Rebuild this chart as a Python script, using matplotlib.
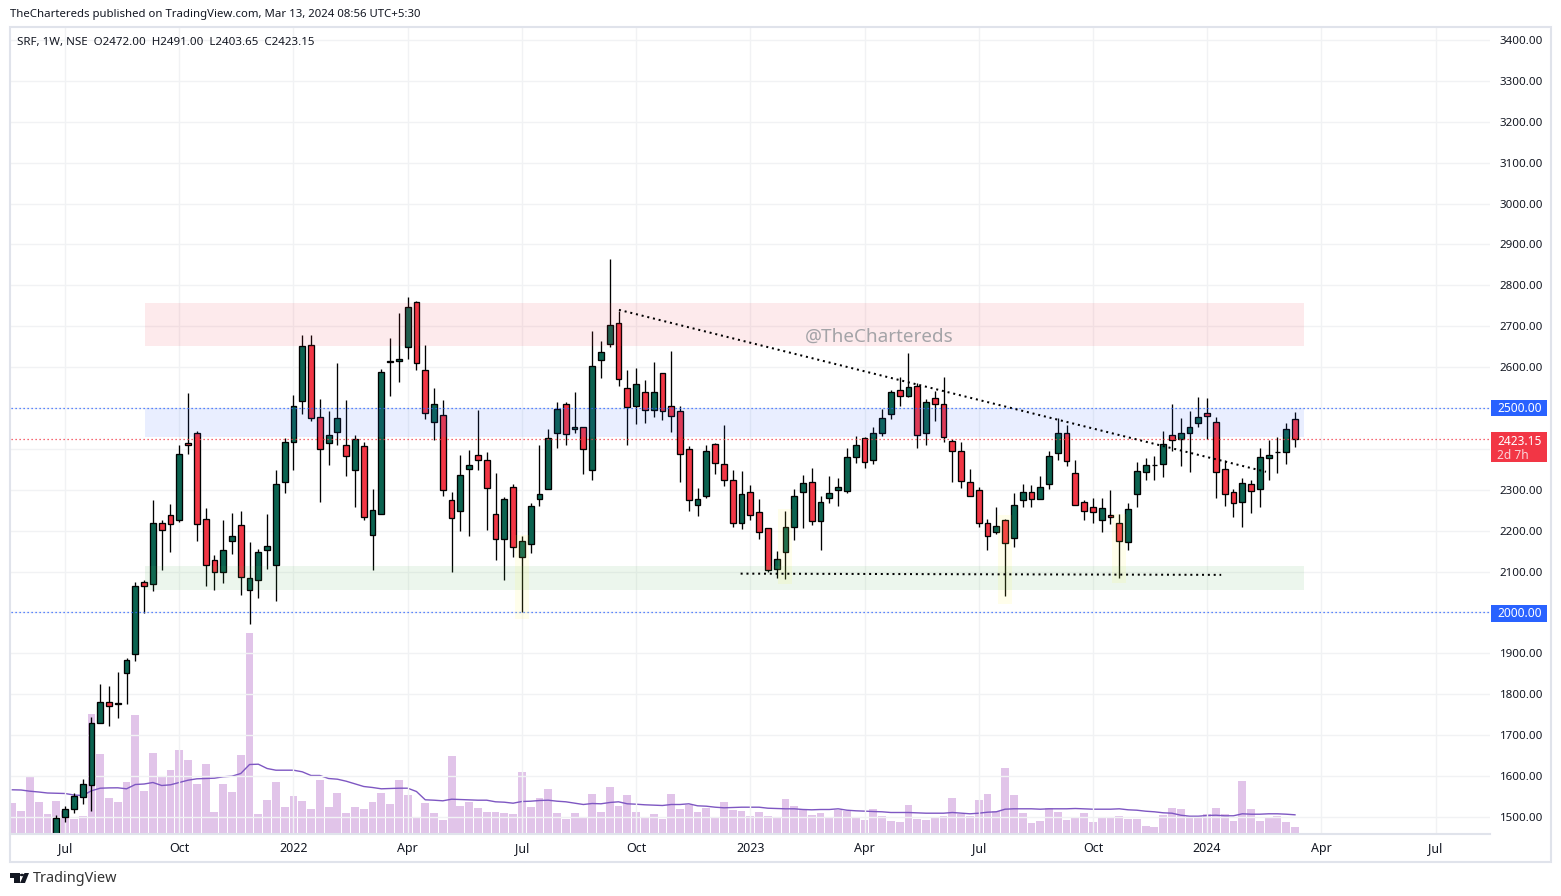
"""SRF weekly candles with support/resistance zones and volume, TradingView look."""
import matplotlib

matplotlib.use("Agg")
import matplotlib.pyplot as plt
from matplotlib.patches import Rectangle, Polygon, Circle
import numpy as np

plt.rcParams["font.family"] = "Noto Sans"

# weekly bars, index 0 is the first candle that shows above the pane bottom
opens = [1455, 1501, 1519, 1548, 1579, 1731, 1780, 1777, 1853, 1898,
         2074, 2069, 2218, 2238, 2225, 2414, 2438, 2228, 2128, 2098,
         2174, 2213, 2054, 2079, 2154, 2115, 2318, 2418, 2518, 2653,
         2477, 2414, 2442, 2409, 2348, 2406, 2189, 2240, 2613, 2614,
         2648, 2758, 2592, 2465, 2482, 2274, 2247, 2352, 2384, 2372,
         2240, 2179, 2308, 2135, 2167, 2277, 2301, 2438, 2509, 2448,
         2453, 2348, 2617, 2656, 2707, 2548, 2504, 2538, 2494, 2585,
         2504, 2492, 2399, 2264, 2286, 2411, 2362, 2323, 2218, 2294,
         2245, 2206, 2106, 2147, 2208, 2294, 2318, 2223, 2279, 2299,
         2296, 2379, 2426, 2372, 2438, 2485, 2543, 2529, 2553, 2438,
         2524, 2511, 2419, 2394, 2318, 2299, 2220, 2198, 2225, 2181,
         2274, 2294, 2277, 2313, 2389, 2438, 2340, 2269, 2257, 2225,
         2238, 2218, 2172, 2289, 2343, 2360, 2362, 2433, 2423, 2438,
         2463, 2487, 2465, 2350, 2294, 2269, 2313, 2301, 2377, 2392,
         2392, 2472]
highs = [1505, 1527, 1558, 1592, 1744, 1825, 1820, 1855, 1888, 2075,
         2079, 2275, 2226, 2265, 2410, 2536, 2443, 2255, 2141, 2226,
         2243, 2248, 2172, 2155, 2241, 2348, 2426, 2532, 2678, 2678,
         2522, 2493, 2610, 2520, 2433, 2417, 2302, 2595, 2671, 2732,
         2771, 2761, 2654, 2549, 2520, 2294, 2385, 2397, 2495, 2392,
         2341, 2282, 2313, 2187, 2268, 2410, 2449, 2515, 2515, 2539,
         2453, 2688, 2664, 2864, 2737, 2592, 2597, 2568, 2612, 2585,
         2639, 2505, 2406, 2304, 2409, 2414, 2458, 2348, 2346, 2312,
         2278, 2206, 2150, 2248, 2302, 2336, 2353, 2285, 2334, 2328,
         2401, 2431, 2428, 2453, 2497, 2543, 2575, 2634, 2562, 2521,
         2542, 2575, 2423, 2416, 2352, 2307, 2228, 2257, 2228, 2291,
         2313, 2312, 2334, 2394, 2475, 2458, 2372, 2274, 2279, 2279,
         2299, 2240, 2267, 2367, 2378, 2383, 2444, 2510, 2476, 2493,
         2526, 2524, 2477, 2372, 2301, 2330, 2323, 2401, 2421, 2428,
         2463, 2491]
lows = [1440, 1488, 1511, 1532, 1515, 1731, 1723, 1743, 1777, 1882,
        1999, 2053, 2104, 2148, 2221, 2388, 2175, 2065, 2055, 2072,
        2143, 2043, 1972, 2035, 2107, 2028, 2293, 2348, 2486, 2467,
        2269, 2361, 2410, 2334, 2258, 2225, 2104, 2240, 2530, 2564,
        2621, 2593, 2473, 2422, 2285, 2099, 2199, 2187, 2348, 2202,
        2128, 2079, 2135, 2001, 2145, 2260, 2301, 2402, 2410, 2439,
        2339, 2324, 2573, 2648, 2554, 2410, 2461, 2463, 2478, 2471,
        2441, 2319, 2248, 2236, 2280, 2339, 2309, 2209, 2204, 2226,
        2180, 2100, 2084, 2082, 2177, 2207, 2214, 2153, 2268, 2260,
        2291, 2366, 2353, 2364, 2432, 2472, 2505, 2526, 2401, 2410,
        2469, 2418, 2319, 2305, 2286, 2210, 2153, 2193, 2040, 2161,
        2257, 2259, 2277, 2301, 2374, 2359, 2262, 2225, 2220, 2198,
        2217, 2084, 2153, 2259, 2324, 2325, 2332, 2396, 2359, 2344,
        2454, 2424, 2281, 2261, 2234, 2210, 2244, 2259, 2324, 2342,
        2364, 2403.65]
closes = [1497, 1519, 1551, 1580, 1731, 1780, 1771, 1778, 1883, 2066,
          2064, 2218, 2201, 2216, 2387, 2409, 2216, 2115, 2098, 2152,
          2186, 2088, 2084, 2147, 2162, 2313, 2418, 2504, 2651, 2475,
          2399, 2433, 2475, 2382, 2423, 2233, 2250, 2587, 2614, 2619,
          2746, 2609, 2487, 2511, 2299, 2230, 2335, 2360, 2372, 2304,
          2179, 2277, 2159, 2174, 2260, 2289, 2426, 2497, 2436, 2453,
          2399, 2602, 2636, 2702, 2570, 2502, 2558, 2494, 2538, 2492,
          2480, 2387, 2274, 2277, 2396, 2365, 2323, 2218, 2289, 2238,
          2196, 2103, 2130, 2208, 2286, 2316, 2223, 2269, 2291, 2306,
          2379, 2409, 2367, 2438, 2475, 2538, 2529, 2551, 2433, 2514,
          2511, 2428, 2396, 2321, 2286, 2220, 2186, 2211, 2169, 2264,
          2294, 2277, 2308, 2382, 2438, 2370, 2262, 2247, 2245, 2255,
          2233, 2174, 2252, 2345, 2360, 2361, 2411, 2421, 2438, 2453,
          2477, 2480, 2343, 2289, 2267, 2316, 2296, 2379, 2384, 2392,
          2448, 2423.15]

# volume starts five weeks before the first visible candle
volume = [31, 23, 58, 32, 20,
          33, 23, 15, 18, 120, 80, 36, 32, 52, 119,
          43, 81, 57, 64, 84, 74, 50, 70, 22, 50,
          42, 79, 201, 20, 34, 52, 27, 38, 33, 25,
          54, 27, 41, 21, 27, 25, 32, 41, 30, 54,
          39, 17, 31, 21, 14, 78, 28, 32, 26, 22,
          22, 21, 20, 62, 27, 36, 45, 21, 15, 21,
          17, 40, 22, 47, 28, 39, 22, 17, 20, 15,
          40, 25, 29, 22, 26, 17, 32, 24, 23, 18,
          22, 18, 17, 35, 28, 25, 19, 21, 16, 24,
          23, 17, 14, 25, 18, 13, 12, 29, 15, 14,
          16, 18, 36, 20, 18, 34, 40, 23, 66, 39,
          21, 11, 13, 26, 22, 14, 16, 21, 12, 17,
          17, 18, 15, 15, 8, 7, 19, 26, 25, 18,
          18, 20, 26, 20, 13, 53, 25, 13, 16, 18,
          12, 7]
volume_ma = [43.7, 43.5, 42.3, 41.5, 40.5,
             40.3, 40, 38.5, 38, 42.7, 45.3, 45.6, 45.7, 44.7, 49,
             49.5, 51, 48, 48.7, 51, 53.3, 54.7, 55, 55.3, 56.7,
             57.3, 60, 69, 69.3, 65, 63.3, 63.3, 63.3, 61.7, 58,
             58, 55, 54.3, 52.3, 49.7, 47, 46, 44.7, 45, 45.3,
             45.3, 42, 33.7, 33.3, 32.7, 34.3, 34, 33.7, 33.3, 33.3,
             31.7, 31.3, 30.3, 32, 32.3, 33, 33.3, 32.3, 31.7, 30.3,
             29, 30, 29.7, 31, 31.7, 29.7, 29.3, 28.7, 28.3, 28,
             29, 29, 29.7, 27.7, 27.3, 26.3, 25.7, 26, 26.3, 26.3,
             26.3, 25.3, 25, 24.7, 24.7, 24, 23.7, 24, 24, 24.7,
             23.3, 22.7, 22.3, 22, 21.7, 21, 21, 21, 20.7, 20.3,
             20.3, 20.3, 21, 20.3, 19.7, 20.3, 21.3, 21.7, 24.3, 24.7,
             24.7, 24.7, 24.3, 24.7, 24.7, 24.7, 25, 24.7, 24.3, 24.3,
             24.3, 24.7, 23.7, 23.3, 22.3, 21.7, 20.7, 20.3, 18.3, 17.3,
             17.3, 18, 18.3, 17.7, 17.7, 19.7, 19.3, 19.3, 19.7, 19.7,
             19.3, 18.7]

tick_pos = [1, 14, 27, 40, 53, 66, 79, 92, 105, 118, 131, 144, 157]
tick_labels = ["Jul", "Oct", "2022", "Apr", "Jul", "Oct", "2023", "Apr", "Jul", "Oct", "2024", "Apr", "Jul"]
price_ticks = list(range(1500, 3500, 100))

# (start week, end week, top price, bottom price, colour)
zones = [(10.1, 142, 2757, 2652, "#f23645"),
         (10.1, 142, 2500, 2428, "#2962ff"),
         (10.1, 142, 2114, 2055, "#4caf50")]
# (week, top price, bottom price)
wick_marks = [(53, 2190, 1984), (83, 2253, 2070), (108, 2238, 2021), (121, 2241, 2072)]
trend_x = [64.05, 137.7]
trend_y = [2740, 2344]
support_x = [77.9, 132.6]
support_y = [2095, 2092]

W, H = 1561, 896
GREEN, RED, BLUE = "#0b6350", "#f23645", "#2962ff"
TEXT = "#131722"
BORDER = "#e0e3eb"
GRID = "#f1f2f4"


def fx(px):
    return px / W


def fy(py):
    return 1 - py / H


fig = plt.figure(figsize=(W / 100, H / 100), dpi=100, facecolor="white")
left, right, top, bottom = 10.5, 1490, 27, 833.5
ax_vol = fig.add_axes([fx(left), fy(bottom), fx(right - left), (bottom - top) / H])
ax = fig.add_axes([fx(left), fy(bottom), fx(right - left), (bottom - top) / H], sharex=ax_vol)
ax.patch.set_visible(False)
ax_vol.set_ylim(0, bottom - top)
ax_vol.axis("off")

weeks = np.arange(len(opens))
vol_weeks = np.arange(-5, len(opens))
ax_vol.bar(vol_weeks, volume, width=0.89, color="#e1c4e9", linewidth=0)
ax_vol.plot(vol_weeks, volume_ma, color="#7e57c2", linewidth=1.0)

ax.set_xlim(-5.21, 163.2)
ax.set_ylim(2500 - (bottom - 408) / 0.409, 2500 - (top - 408) / 0.409)
for side in ax.spines.values():
    side.set_visible(False)
ax.set_xticks(tick_pos)
ax.set_xticklabels(tick_labels, fontsize=9, color=TEXT)
for lab, txt in zip(ax.get_xticklabels(), tick_labels):
    if txt.isdigit():
        lab.set_fontweight("bold")
ax.tick_params(axis="x", length=0, pad=6)
ax.yaxis.tick_right()
ax.set_yticks(price_ticks)
ax.set_yticklabels(["" if p in (2000, 2400, 2500) else f"{p}.00" for p in price_ticks], fontsize=8.3, color=TEXT)
ax.tick_params(axis="y", length=0, pad=7)
ax.grid(True, color=GRID, linewidth=1.0, zorder=0)
ax.set_axisbelow(True)

# candles
colors = [GREEN if c >= o else RED for o, c in zip(opens, closes)]
ax.vlines(weeks, lows, highs, color="black", linewidth=0.95, zorder=2)
ax.bar(weeks, np.array(closes) - np.array(opens), bottom=opens, width=0.66, color=colors,
       edgecolor="black", linewidth=0.95, zorder=3)

for x0, x1, p_top, p_bot, c in zones:
    ax.add_patch(Rectangle((x0, p_bot), x1 - x0, p_top - p_bot, facecolor=c, alpha=0.1,
                           linewidth=0, zorder=4))
for wk, p_top, p_bot in wick_marks:
    ax.add_patch(Rectangle((wk - 0.8, p_bot), 1.6, p_top - p_bot, facecolor="#fff93b", alpha=0.1,
                           linewidth=0, zorder=5))

ax.axhline(2500, color=BLUE, linewidth=0.9, linestyle=(0, (1, 2.2)), zorder=4)
ax.axhline(2000, color=BLUE, linewidth=0.9, linestyle=(0, (1, 2.2)), zorder=4)
ax.axhline(closes[-1], color=RED, linewidth=0.9, linestyle=(0, (1, 2.2)), zorder=4)
ax.plot(trend_x, trend_y, color="black", linewidth=1.45, linestyle=(0, (1, 1.9)), zorder=6)
ax.plot(support_x, support_y, color="black", linewidth=1.45, linestyle=(0, (1, 1.9)), zorder=6)

fig.text(fx(879), fy(336.5), "@TheChartereds", fontsize=13.6, color="#a4a4a8", ha="center", va="center")

# header, legend and footer
fig.text(fx(10), fy(14), "TheChartereds published on TradingView.com, Mar 13, 2024 08:56 UTC+5:30",
         fontsize=8.2, color=TEXT, va="center")
fig.text(fx(17), fy(42), "SRF, 1W, NSE  O2472.00  H2491.00  L2403.65  C2423.15",
         fontsize=8.3, color=TEXT, va="center")
fig.text(fx(33), fy(878), "TradingView", fontsize=10.4, color="#333333", va="center")

# outer frame and line under the pane
fig.add_artist(Rectangle((fx(10), fy(861.5)), fx(1540.5), (861.5 - 27) / H, transform=fig.transFigure,
                         fill=False, edgecolor=BORDER, linewidth=1.5))
fig.add_artist(plt.Line2D([fx(10), fx(1490)], [fy(833.5), fy(833.5)], color=BORDER, linewidth=1.5))

# price badges on the scale
for y0, y1, c in [(400, 416.5, BLUE), (605, 621.5, BLUE), (432, 462.5, RED)]:
    fig.add_artist(Rectangle((fx(1491), fy(y1)), fx(56), (y1 - y0) / H, transform=fig.transFigure,
                             facecolor=c, linewidth=0))
fig.text(fx(1520), fy(408.5), "2500.00", fontsize=8.6, color="white", ha="center", va="center", fontweight="medium")
fig.text(fx(1520), fy(613.5), "2000.00", fontsize=8.6, color="white", ha="center", va="center", fontweight="medium")
fig.text(fx(1520), fy(441), "2423.15", fontsize=8.6, color="white", ha="center", va="center", fontweight="medium")
fig.text(fx(1513), fy(455), "2d 7h", fontsize=8.6, color="#fbd3d7", ha="center", va="center")

# TradingView logo
aspect = [[(10, 873), (19.5, 873), (19.5, 883), (14.5, 883), (14.5, 878), (10, 878)],
          [(29, 873), (24.5, 873), (20, 883), (25, 883)]]
for pts in aspect:
    fig.add_artist(Polygon([(fx(a), fy(b)) for a, b in pts], transform=fig.transFigure,
                           facecolor="#131722", linewidth=0))
fig.add_artist(Circle((fx(22), fy(875)), 2.2 / W, transform=fig.transFigure, facecolor="#131722", linewidth=0))

fig.savefig("out.png", dpi=100)
